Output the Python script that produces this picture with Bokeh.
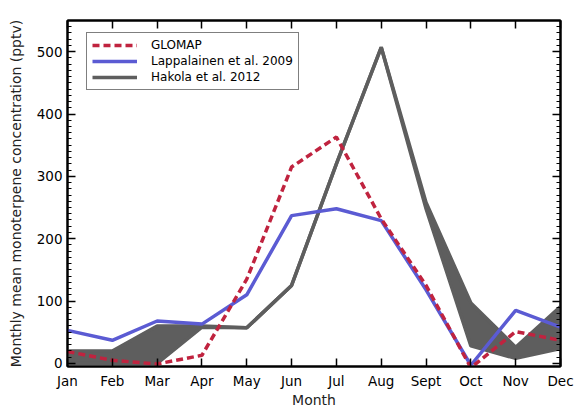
from bokeh.plotting import figure
from bokeh.models import (Range1d, LinearAxis, FixedTicker, SingleIntervalTicker,
                          Legend, LegendItem, CustomJSTickFormatter)
from bokeh.embed import file_html
from bokeh.resources import INLINE

months = ["Jan", "Feb", "Mar", "Apr", "May", "Jun", "Jul", "Aug", "Sept", "Oct", "Nov", "Dec"]
glomap = [19, 5, -1, 13, 135, 315, 363, 232, 125, -7, 51, 37]
lappalainen = [53, 37, 68, 63, 110, 237, 248, 229, 118, -3, 85, 58]
hakola_low = [0, 0, 0, 58, 57, 125, 320, 507, 248, 28, 8, 24]
hakola_high = [20, 20, 60, 60, 57, 125, 320, 507, 258, 97, 26, 91]

x = list(range(len(months)))

FONT = "DejaVu Sans"
RED = "#c0233f"
BLUE = "#5b5bd3"
GRAY = "#5e5e5e"

p = figure(width=574, height=410, output_backend="svg", toolbar_location=None,
           x_range=Range1d(0, 11), y_range=Range1d(-5, 550),
           min_border_left=67, min_border_right=14, min_border_top=20, min_border_bottom=42)
p.grid.visible = False
p.outline_line_color = "black"
p.outline_line_width = 2
p.background_fill_color = "white"

band = p.varea(x=x, y1=hakola_low, y2=hakola_high, fill_color=GRAY)
gl1 = p.line(x, hakola_high, line_color=GRAY, line_width=3.5)
p.line(x, hakola_low, line_color=GRAY, line_width=3.5)
bl = p.line(x, lappalainen, line_color=BLUE, line_width=3.5)
rl = p.line(x, glomap, line_color=RED, line_width=3.5, line_dash="7 4")

def style(ax):
    ax.axis_line_color = "black"
    ax.axis_line_width = 2
    ax.major_tick_in = 8
    ax.major_tick_out = 0
    ax.minor_tick_in = 4
    ax.minor_tick_out = 0
    ax.major_tick_line_width = 1.5
    ax.minor_tick_line_width = 1.2
    ax.major_label_text_font = FONT
    ax.major_label_text_font_size = "13.5px"
    ax.major_label_text_color = "black"
    ax.axis_label_text_font = FONT
    ax.axis_label_text_font_size = "14px"
    ax.axis_label_text_font_style = "normal"
    ax.axis_label_text_color = "#222222"

xt = FixedTicker(ticks=x, minor_ticks=[])
p.xaxis.ticker = xt
p.xaxis.major_label_overrides = {i: m for i, m in enumerate(months)}
p.xaxis.axis_label = "Month"
p.xaxis.axis_label_standoff = 0
p.xaxis.major_label_standoff = 6
style(p.xaxis[0])

yt = SingleIntervalTicker(interval=100, num_minor_ticks=10)
p.yaxis.ticker = yt
p.yaxis.axis_label = "Monthly mean monoterpene concentration (pptv)"
p.yaxis.axis_label_standoff = 10
p.yaxis.major_label_standoff = 5
style(p.yaxis[0])

blank = CustomJSTickFormatter(code="return '';")
top = LinearAxis(ticker=FixedTicker(ticks=x, minor_ticks=[]), formatter=blank)
style(top)
top.major_label_text_font_size = "1px"
p.add_layout(top, "above")
right = LinearAxis(ticker=SingleIntervalTicker(interval=100, num_minor_ticks=10), formatter=blank)
style(right)
right.major_label_text_font_size = "1px"
p.add_layout(right, "right")

legend = Legend(items=[
    LegendItem(label="GLOMAP", renderers=[rl]),
    LegendItem(label="Lappalainen et al. 2009", renderers=[bl]),
    LegendItem(label="Hakola et al. 2012", renderers=[gl1]),
], location=(19, 276))
legend.label_text_font = FONT
legend.label_text_font_size = "12px"
legend.label_text_color = "black"
legend.glyph_width = 45
legend.glyph_height = 14
legend.label_height = 14
legend.label_standoff = 14
legend.spacing = 2
legend.padding = 5
legend.margin = 0
legend.border_line_color = "black"
legend.border_line_width = 1.2
legend.background_fill_alpha = 1
p.add_layout(legend, "center")

open("out.html", "w").write(file_html(p, INLINE))
